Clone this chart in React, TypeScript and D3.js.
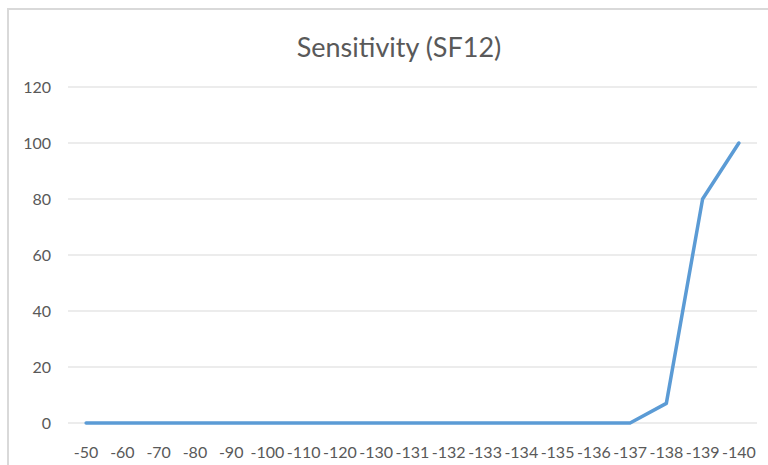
import React from "react";
import * as d3 from "d3";

const categories = ["-50","-60","-70","-80","-90","-100","-110","-120","-130","-131","-132","-133","-134","-135","-136","-137","-138","-139","-140"];
const values = [0,0,0,0,0,0,0,0,0,0,0,0,0,0,0,0,7,80,100];
const yTicks = [0,20,40,60,80,100,120];
const title = "Sensitivity (SF12)";

export default function App() {
  const W = 768, H = 465;
  const left = 68, right = 757, top = 87, bottom = 423;
  const x = d3.scalePoint<string>().domain(categories).range([left, right]).padding(0.5);
  const y = d3.scaleLinear().domain([0, 120]).range([bottom, top]);
  const line = d3.line<number>().x((_, i) => x(categories[i])!).y(d => y(d));
  const font = "Lato, 'Open Sans', sans-serif";
  return (
    <svg width={W} height={H} style={{ position: "absolute", left: 0, top: 0 }}>
      <rect x={0} y={0} width={W} height={H} fill="#fff" />
      <rect x={8} y={9} width={W + 10} height={H + 10} fill="#fff" stroke="#d9d9d9" strokeWidth={2} />
      <text x={399} y={57} textAnchor="middle" fontFamily={font} fontSize={27} fill="#595959">{title}</text>
      {yTicks.map(t => (
        <g key={t}>
          <line x1={left} x2={right} y1={y(t)} y2={y(t)} stroke="#d9d9d9" strokeWidth={1} />
          <text x={51} y={y(t) + 6} textAnchor="end" fontFamily={font} fontSize={16} fill="#595959">{t}</text>
        </g>
      ))}
      {categories.map(c => (
        <text key={c} x={x(c)!} y={458} textAnchor="middle" fontFamily={font} fontSize={16} fill="#595959">{c}</text>
      ))}
      <path d={line(values)!} fill="none" stroke="#5b9bd5" strokeWidth={3.5} strokeLinejoin="round" strokeLinecap="round" />
    </svg>
  );
}
